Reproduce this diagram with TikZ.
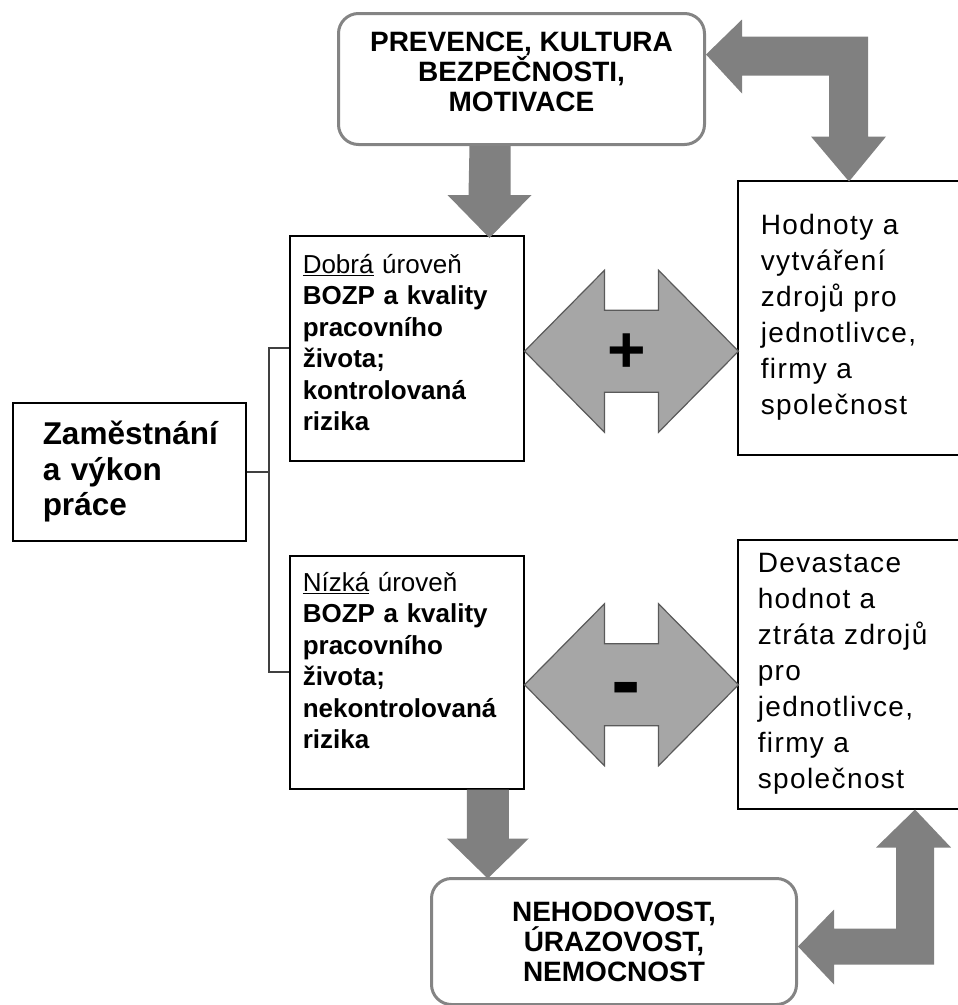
\documentclass[tikz,border=0pt]{standalone}
\usepackage{fontspec}
\setmainfont{Liberation Sans}
\usepackage{tikz}
\usetikzlibrary{positioning}

\definecolor{arrowgray}{HTML}{808080}
\definecolor{edgegray}{HTML}{848484}
\definecolor{dblfill}{HTML}{A6A6A6}
\definecolor{dbledge}{HTML}{5A5A5A}
\definecolor{linegray}{HTML}{404040}

\begin{document}
\begin{tikzpicture}[
                x=1pt, y=-1pt, % one unit = one pixel of the page, y down
                roundbox/.style={draw=edgegray, line width=3pt, rounded corners=20pt, fill=white, align=center, inner sep=0pt, font=\fontsize{28}{30}\selectfont\bfseries}, % rounded boxes top and bottom
                sqbox/.style={draw=black, line width=1.5pt, fill=white, align=left, inner ysep=0pt, anchor=north west}, % plain boxes
                midtext/.style={font=\fontsize{26}{31.5}\selectfont\bfseries}, % text of the middle boxes
                sidetext/.style={font=\fontsize{28}{36}\selectfont\addfontfeature{LetterSpace=5}}, % text of the right boxes
                bigarrow/.style={fill=arrowgray}, % thick gray block arrows
                dblarrow/.style={fill=dblfill, draw=dbledge, line width=1.2pt, line join=miter}, % double block arrows
                sign/.style={inner sep=0pt, font=\bfseries}, % plus and minus
                conn/.style={draw=linegray, line width=2pt} % tree lines
                ]
                \useasboundingbox (0,0) rectangle (958,1005);
                \clip (0,0) rectangle (958,1005);

                % boxes
                \node[roundbox, minimum width=366pt, minimum height=131pt, text depth=14pt, anchor=north west] (prev) at (337,12)
                    {PREVENCE, KULTURA\\BEZPEČNOSTI,\\MOTIVACE};
                \node[sqbox, font=\fontsize{31.5}{35.5}\selectfont\bfseries, inner xsep=30pt, text width=173pt, minimum height=138pt] (zam) at (12,402)
                    {Zaměstnání\\a výkon\\práce};
                \node[sqbox, midtext, inner xsep=13pt, text width=208pt, minimum height=225pt, text depth=169.5pt] (dobra) at (289,235)
                    {{\mdseries\underline{Dobrá} úroveň}\\BOZP a kvality\\pracovního\\života;\\kontrolovaná\\rizika};
                \node[sqbox, midtext, inner xsep=13pt, text width=208pt, minimum height=233pt, text depth=181.5pt] (nizka) at (289,555)
                    {{\mdseries\underline{Nízká} úroveň}\\BOZP a kvality\\pracovního\\života;\\nekontrolovaná\\rizika};
                \node[sqbox, sidetext, inner xsep=23pt, text width=192pt, minimum height=274pt] (hodn) at (737,180)
                    {Hodnoty a\\vytváření\\zdrojů pro\\jednotlivce,\\firmy a\\společnost};
                \node[sqbox, sidetext, inner xsep=20pt, text width=198pt, minimum height=269pt] (devast) at (737,539)
                    {Devastace\\hodnot a\\ztráta zdrojů\\pro\\jednotlivce,\\firmy a\\společnost};
                \node[roundbox, minimum width=365pt, minimum height=126pt, anchor=north west] (nehod) at (430,877)
                    {NEHODOVOST,\\ÚRAZOVOST,\\NEMOCNOST};

                % tree lines
                \draw[conn] (zam.east) -- ++(22,0) coordinate (fork);
                \draw[conn] (fork) |- (dobra.west);
                \draw[conn] (fork) |- (nizka.west);

                % down arrows
                \fill[bigarrow] ([xshift=-52pt]prev.south) -- ++(41,0) -- ++(0,49) -- ++(21,0) -- ++(-42,43) -- ++(-42,-43) -- ++(21,0) -- cycle;
                \fill[bigarrow] ([xshift=60pt]nizka.south) -- ++(42,0) -- ++(0,49) -- ++(20,0) -- ++(-41,40) -- ++(-41,-40) -- ++(20,0) -- cycle;

                % bent arrows
                \fill[bigarrow] ([yshift=24.5pt]prev.east) -- ++(36,-35) -- ++(0,17) -- ++(126,0) -- ++(0,100) -- ++(18,0) -- ++(-37,45)
                    -- ++(-38,-45) -- ++(18,0) -- ++(0,-61) -- ++(-87,0) -- ++(0,18) -- cycle;
                \fill[bigarrow] ([yshift=-5pt]nehod.east) -- ++(36,-37) -- ++(0,19) -- ++(62,0) -- ++(0,-81) -- ++(-20,0) -- ++(39,-38)
                    -- ++(36,38) -- ++(-17,0) -- ++(0,117) -- ++(-100,0) -- ++(0,20) -- cycle;

                % double arrows
                \draw[dblarrow] ([yshift=-3pt]dobra.east) -- ++(80,-81) -- ++(0,40) -- ++(54,0) -- ++(0,-40) -- ++(80,81)
                    -- ++(-80,81) -- ++(0,-40) -- ++(-54,0) -- ++(0,40) -- cycle;
                \draw[dblarrow] ([yshift=-12.5pt]nizka.east) -- ++(80,-81) -- ++(0,40) -- ++(54,0) -- ++(0,-40) -- ++(80,81)
                    -- ++(-80,81) -- ++(0,-40) -- ++(-54,0) -- ++(0,40) -- cycle;
                \node[sign, font=\fontsize{66}{66}\selectfont\bfseries] (plus) at ([xshift=102pt,yshift=-5pt]dobra.east) {+};
                \node[sign, font=\fontsize{88}{88}\selectfont\bfseries] (minus) at ([xshift=102pt,yshift=-24.5pt]nizka.east) {-};
            \end{tikzpicture}
\end{document}
